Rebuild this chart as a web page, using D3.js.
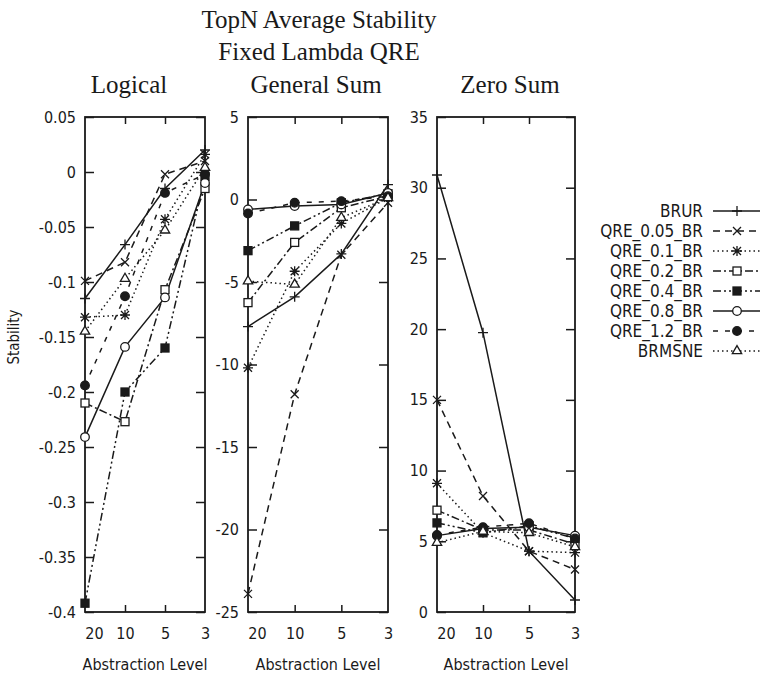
<!DOCTYPE html>
<html lang="en">
<head>
    <meta charset="UTF-8" />
    <title>TopN Average Stability</title>
    <script src="https://d3js.org/d3.v7.min.js"></script>
    <style>
        body { margin: 0; background: #fff; }
        .sans { font-family: "DejaVu Sans Condensed", "DejaVu Sans", sans-serif; font-stretch: condensed; fill: #1a1a1a; }
        .serif { font-family: "Liberation Serif", "DejaVu Serif", serif; fill: #1a1a1a; }
    </style>
</head>
<body>
    <script>
        // categories on the x axis
        const levels = ["20", "10", "5", "3"];
        const seriesNames = ["BRUR", "QRE_0.05_BR", "QRE_0.1_BR", "QRE_0.2_BR", "QRE_0.4_BR", "QRE_0.8_BR", "QRE_1.2_BR", "BRMSNE"];

        // one row per series, columns follow levels
        const logicalValues = [
            [-0.115, -0.066, -0.015, 0.02],
            [-0.099, -0.082, -0.002, 0.01],
            [-0.132, -0.130, -0.043, 0.016],
            [-0.210, -0.227, -0.107, -0.015],
            [-0.392, -0.200, -0.160, -0.004],
            [-0.241, -0.159, -0.114, -0.010],
            [-0.194, -0.113, -0.019, -0.002],
            [-0.145, -0.097, -0.053, 0.004]
        ];
        const generalValues = [
            [-7.7, -5.9, -3.3, 0.9],
            [-23.9, -11.8, -3.35, -0.2],
            [-10.2, -4.35, -1.45, 0.1],
            [-6.25, -2.6, -0.5, 0.2],
            [-3.1, -1.6, -0.2, 0.35],
            [-0.6, -0.4, -0.3, 0.4],
            [-0.85, -0.2, -0.1, 0.2],
            [-4.95, -5.15, -1.1, 0.1]
        ];
        const zeroValues = [
            [30.9, 19.75, 4.3, 0.85],
            [15.0, 8.2, 4.3, 3.0],
            [9.1, 5.6, 4.3, 4.2],
            [7.2, 5.8, 5.8, 4.8],
            [6.3, 5.6, 6.1, 5.2],
            [5.4, 5.9, 6.0, 5.4],
            [5.45, 6.0, 6.27, 5.2],
            [4.9, 5.7, 5.6, 4.6]
        ];

        // tick labels
        const logicalTicks = [0.05, 0, -0.05, -0.1, -0.15, -0.2, -0.25, -0.3, -0.35, -0.4];
        const generalTicks = [5, 0, -5, -10, -15, -20, -25];
        const zeroTicks = [35, 30, 25, 20, 15, 10, 5, 0];

        // line style + marker for each series
        const dashes = ["none", "7,5", "1.5,3", "8,3,2,3", "8,3,2,3,2,3", "none", "5,7", "1.5,3"];
        const markers = ["plus", "cross", "star", "square", "squareFill", "circle", "circleFill", "triangle"];

        const width = 760, height = 675;
        const plotTop = 117, plotBottom = 612;
        const ink = "#1a1a1a";

        const svg = d3.select("body").append("svg")
            .attr("width", width)
            .attr("height", height);

        function drawMarker(g, type) {
            if (type === "plus") {
                g.append("path").attr("d", "M-5,0H5M0,-5V5").attr("stroke", ink).attr("stroke-width", 1.3);
            } else if (type === "cross") {
                g.append("path").attr("d", "M-4,-4L4,4M-4,4L4,-4").attr("stroke", ink).attr("stroke-width", 1.3);
            } else if (type === "star") {
                g.append("path").attr("d", "M-5,0H5M0,-5V5M-4,-4L4,4M-4,4L4,-4").attr("stroke", ink).attr("stroke-width", 1.3);
            } else if (type === "square" || type === "squareFill") {
                g.append("rect").attr("x", -4).attr("y", -4).attr("width", 8).attr("height", 8)
                    .attr("fill", type === "square" ? "#fff" : ink).attr("stroke", ink).attr("stroke-width", 1.3);
            } else if (type === "circle" || type === "circleFill") {
                g.append("circle").attr("r", 4.3)
                    .attr("fill", type === "circle" ? "#fff" : ink).attr("stroke", ink).attr("stroke-width", 1.3);
            } else if (type === "triangle") {
                g.append("path").attr("d", d3.symbol(d3.symbolTriangle, 38)())
                    .attr("fill", "#fff").attr("stroke", ink).attr("stroke-width", 1.3);
            }
        }

        const panels = [
            { title: "Logical", titleX: 129, left: 85, right: 205, domain: [-0.4, 0.05], ticks: logicalTicks, values: logicalValues },
            { title: "General Sum", titleX: 316, left: 248, right: 388, domain: [-25, 5], ticks: generalTicks, values: generalValues },
            { title: "Zero Sum", titleX: 510, left: 437, right: 575, domain: [0, 35], ticks: zeroTicks, values: zeroValues }
        ];

        panels.forEach(p => {
            const x = d3.scalePoint().domain(levels).range([p.left, p.right]);
            const y = d3.scaleLinear().domain(p.domain).range([plotBottom, plotTop]);

            // axes with inward ticks
            const yl = svg.append("g").attr("class", "sans").attr("transform", `translate(${p.left},0)`)
                .call(d3.axisLeft(y).tickValues(p.ticks).tickFormat(d => String(d)).tickSize(-9).tickPadding(9));
            const yr = svg.append("g").attr("transform", `translate(${p.right},0)`)
                .call(d3.axisRight(y).tickValues(p.ticks).tickFormat("").tickSize(-9));
            const xt = svg.append("g").attr("transform", `translate(0,${plotTop})`)
                .call(d3.axisTop(x).tickValues(["10", "5"]).tickFormat("").tickSize(-7));
            const xb = svg.append("g").attr("class", "sans").attr("transform", `translate(0,${plotBottom})`)
                .call(d3.axisBottom(x).tickSize(-7).tickPadding(16));
            xb.selectAll(".tick").filter(d => d === "20" || d === "3").select("line").remove();
            xb.selectAll(".tick").filter(d => d === "20").select("text").attr("dx", 9);

            [yl, yr, xt, xb].forEach(a => {
                a.select(".domain").remove();
                a.selectAll("line").attr("stroke", ink).attr("stroke-width", 1.5);
                a.selectAll("text").attr("font-size", 16).attr("font-family", null).attr("fill", ink);
            });

            svg.append("rect")
                .attr("x", p.left).attr("y", plotTop)
                .attr("width", p.right - p.left).attr("height", plotBottom - plotTop)
                .attr("fill", "none").attr("stroke", ink).attr("stroke-width", 1.8);

            const line = d3.line().x((d, i) => x(levels[i])).y(d => y(d));

            p.values.forEach((vals, s) => {
                svg.append("path")
                    .attr("d", line(vals))
                    .attr("fill", "none")
                    .attr("stroke", ink)
                    .attr("stroke-width", 1.5)
                    .attr("stroke-dasharray", dashes[s]);
            });
            p.values.forEach((vals, s) => {
                vals.forEach((v, i) => {
                    const g = svg.append("g").attr("transform", `translate(${x(levels[i])},${y(v)})`);
                    drawMarker(g, markers[s]);
                });
            });

            svg.append("text").attr("class", "serif")
                .attr("x", p.titleX).attr("y", 93)
                .attr("text-anchor", "middle").attr("font-size", 25)
                .text(p.title);

            svg.append("text").attr("class", "sans")
                .attr("x", (p.left + p.right) / 2).attr("y", 670)
                .attr("text-anchor", "middle").attr("font-size", 16)
                .text("Abstraction Level");
        });

        // main title
        svg.append("text").attr("class", "serif")
            .attr("x", 319).attr("y", 28).attr("text-anchor", "middle").attr("font-size", 25)
            .text("TopN Average Stability");
        svg.append("text").attr("class", "serif")
            .attr("x", 319).attr("y", 60).attr("text-anchor", "middle").attr("font-size", 25)
            .text("Fixed Lambda QRE");

        // y label
        svg.append("text").attr("class", "sans")
            .attr("transform", "translate(19,337) rotate(-90)")
            .attr("text-anchor", "middle").attr("font-size", 15)
            .text("Stability");

        // legend
        const legend = svg.append("g");
        seriesNames.forEach((name, s) => {
            const ly = 211 + s * 20;
            legend.append("text").attr("class", "sans")
                .attr("x", 703).attr("y", ly).attr("dy", "0.35em")
                .attr("text-anchor", "end").attr("font-size", 17)
                .text(name);
            legend.append("line")
                .attr("x1", 713).attr("x2", 762).attr("y1", ly).attr("y2", ly)
                .attr("stroke", ink).attr("stroke-width", 1.5)
                .attr("stroke-dasharray", dashes[s]);
            drawMarker(legend.append("g").attr("transform", `translate(737,${ly})`), markers[s]);
        });
    </script>
</body>
</html>
